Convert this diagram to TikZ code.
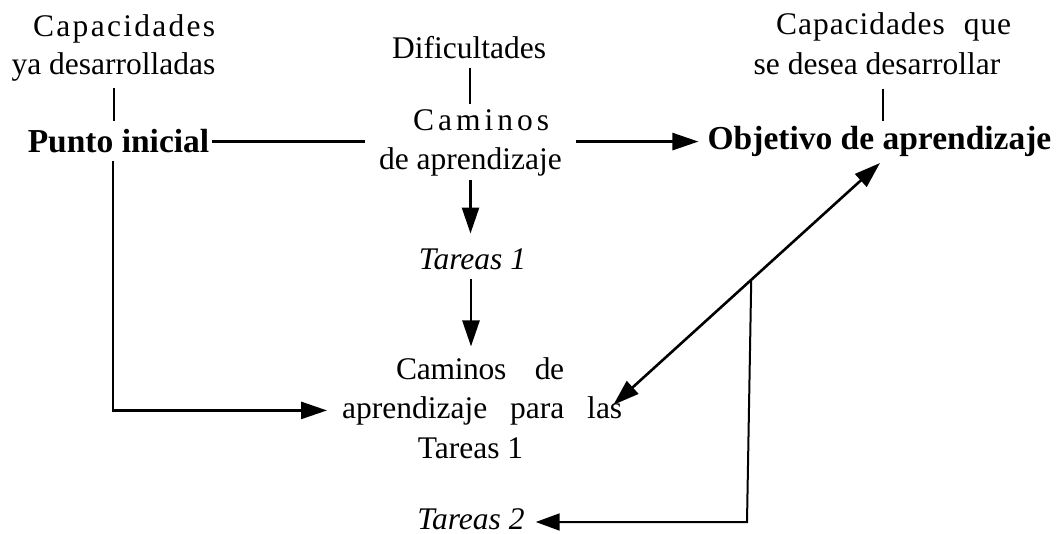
\documentclass[tikz,border=0pt]{standalone}
\usepackage{fontspec}
\setmainfont{Liberation Serif}
\usetikzlibrary{arrows.meta,calc}
\tikzset{
  txt/.style={inner sep=0pt, font=\fontsize{31.5}{38}\selectfont},
  lbl/.style={txt, anchor=base},
  lblw/.style={txt, anchor=base west},
  boldlbl/.style={inner sep=0pt, anchor=base, font=\fontsize{33.5}{40}\selectfont\bfseries},
  conn/.style={line width=2.6pt},
  thinconn/.style={line width=2pt},
  tip/.style={-{Triangle[length=26pt,width=17pt]}},
  arr/.style={conn, tip},
}
\begin{document}
\begin{tikzpicture}[x=1pt,y=-1pt]
\useasboundingbox (0,0) rectangle (1057,534);
% texts
\node[lblw] (cap1a) at (33,37) {\hbox to 182pt{C\hfil a\hfil p\hfil a\hfil c\hfil i\hfil d\hfil a\hfil d\hfil e\hfil s}};
\node[lbl] (cap1b) at (113.5,75) {ya desarrolladas};
\node[boldlbl] (punto) at (118.5,153) {Punto inicial};
\node[lbl] (dif) at (469,59) {Dificultades};
\node[lblw] (cam1) at (413,131) {\hbox to 136pt{C\hfil a\hfil m\hfil i\hfil n\hfil o\hfil s}};
\node[lbl] (cam2) at (470.5,170) {de aprendizaje};
\node[boldlbl] (obj) at (879.5,150) {Objetivo de aprendizaje};
\node[lblw] (cap2a) at (776,35) {\hbox to 235pt{\addfontfeature{LetterSpace=3}Capacidades\hfil que}};
\node[lbl] (cap2b) at (877,75) {se desea desarrollar};
\node[lbl] (t1) at (472.5,270) {\itshape Tareas 1};
\node[lblw] (cp1) at (396,379) {\hbox to 168pt{\addfontfeature{LetterSpace=-1}Caminos\hfil de}};
\node[lblw] (cp2) at (342,418) {\hbox to 280pt{aprendizaje\hfil para\hfil las}};
\node[lbl] (cp3) at (470.5,458) {Tareas 1};
\node[lbl] (t2) at (471,529) {\itshape Tareas 2};
% connectors
\draw[thinconn] ([yshift=-6pt]cap1b.south) -- ($(cap1b.south |- punto.north)+(0,-8.4)$);
\draw[conn] ([xshift=3pt]punto.east) -- ($(cam2.west |- punto.east)+(-14,0)$);
\draw[arr] ($(cam2.east |- punto.east)+(14,0)$) -- ($(obj.west |- punto.east)+(-9,0)$);
\draw[thinconn] ([xshift=1pt,yshift=-8pt]dif.south) -- ($(dif.south |- cam1.north)+(1,-6)$);
\draw[thinconn] ([xshift=6pt,yshift=-13pt]cap2b.south) -- ([xshift=3.5pt,yshift=5.4pt]obj.north);
\draw[arr] ([xshift=-5.5pt,yshift=-7pt]punto.south) |- ([xshift=-15pt]cp2.west);
\draw[arr] ([yshift=-3pt]cam2.south) -- ($(cam2.south |- t1.north)+(0,-15.5)$);
\draw[arr] ([xshift=-1.5pt,yshift=-8pt]t1.south) -- ($(t1.south |- cp1.north)+(-1.5,-10.5)$);
\coordinate (d1) at ([xshift=-9pt,yshift=5.6pt]cp2.east);
\coordinate (d2) at ([xshift=0.5pt,yshift=-5.7pt]obj.south);
\draw[conn, {Triangle[length=26pt,width=17pt]}-{Triangle[length=26pt,width=17pt]}] (d1) -- (d2);
\coordinate (br) at ($(d1)!0.517!(d2)$);
\coordinate (corner) at (747,522);
\draw[thinconn, -{Triangle[length=24pt,width=17pt]}] (br) -- (corner) -- ($(t2.east |- corner)+(11,0)$);
\end{tikzpicture}
\end{document}
